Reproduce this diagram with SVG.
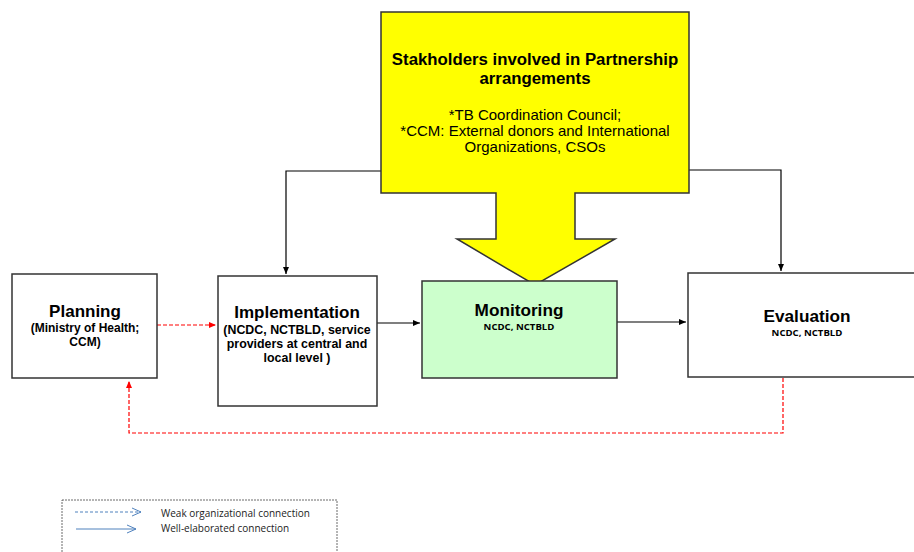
<svg xmlns="http://www.w3.org/2000/svg" width="914" height="552" viewBox="0 0 914 552">
<defs>
<style>
.box{fill:#fff;stroke:#333;stroke-width:1.5}
.t{font-family:"Liberation Sans",Arial,sans-serif;fill:#000;text-anchor:middle}
.b{font-weight:bold}
.s{font-family:"Open Sans","Noto Sans",sans-serif;font-weight:bold;font-size:9.6px;text-anchor:middle}
.c{fill:none;stroke:#000;stroke-width:1.2}
.r{fill:none;stroke:#ff0000;stroke-width:1.2;stroke-dasharray:4,2}
.leg{font-family:"Open Sans","Noto Sans",sans-serif;font-size:10px;fill:#222}
</style>
<marker id="ak" markerWidth="8" markerHeight="8" refX="7" refY="4" orient="auto" markerUnits="userSpaceOnUse"><path d="M0,1 L7,4 L0,7 z" fill="#000"/></marker>
<marker id="ar" markerWidth="8" markerHeight="8" refX="7" refY="4" orient="auto" markerUnits="userSpaceOnUse"><path d="M0,1 L7,4 L0,7 z" fill="#ff0000"/></marker>
<marker id="ab" markerWidth="10" markerHeight="10" refX="9" refY="5" orient="auto" markerUnits="userSpaceOnUse"><path d="M0,1 L9,5 L0,9" fill="none" stroke="#4f81bd" stroke-width="1"/></marker>
</defs>
<rect width="914" height="552" fill="#fff"/>

<g id="connectors">
<path class="c" d="M381,171 H286 V274" marker-end="url(#ak)"/>
<path class="c" d="M689,170 H781 V271" marker-end="url(#ak)"/>
<path class="c" d="M377,323 H420" marker-end="url(#ak)"/>
<path class="c" d="M617,322 H686" marker-end="url(#ak)"/>
<path class="r" d="M157,325 H216" marker-end="url(#ar)"/>
<path class="r" d="M783,378 V433 H129 V381" marker-end="url(#ar)"/>
</g>

<g id="stakeholders">
<polygon points="381,12 689,12 689,193 575,193 575,239 615,239 535,285 457,239 496,239 496,193 381,193" fill="#ffff00" stroke="#333" stroke-width="1.5"/>
<text class="t b" x="535" y="65" font-size="16.8">Stakholders involved in Partnership</text>
<text class="t b" x="535" y="84" font-size="16.8">arrangements</text>
<text class="t" x="535" y="120" font-size="15">*TB Coordination Council;</text>
<text class="t" x="535" y="136" font-size="15">*CCM: External donors and International</text>
<text class="t" x="535" y="152" font-size="15">Organizations, CSOs</text>
</g>

<g id="planning">
<rect class="box" x="12" y="274" width="145" height="104"/>
<text class="t b" x="85" y="317" font-size="17">Planning</text>
<text class="t b" x="85" y="332" font-size="12">(Ministry of Health;</text>
<text class="t b" x="85" y="346" font-size="12">CCM)</text>
</g>

<g id="implementation">
<rect class="box" x="218" y="276" width="159" height="130"/>
<text class="t b" x="297" y="318" font-size="17">Implementation</text>
<text class="t b" x="297" y="334" font-size="12.4">(NCDC, NCTBLD, service</text>
<text class="t b" x="297" y="348" font-size="12.4">providers at central and</text>
<text class="t b" x="297" y="362" font-size="12.4">local level )</text>
</g>

<g id="monitoring">
<rect class="box" x="422" y="281" width="195" height="97" style="fill:#ccffcc"/>
<text class="t b" x="519" y="316" font-size="17.2">Monitoring</text>
<text class="s" x="519" y="330">NCDC, NCTBLD</text>
</g>

<g id="evaluation">
<rect class="box" x="688" y="273" width="240" height="104"/>
<text class="t b" x="807" y="322" font-size="17.2">Evaluation</text>
<text class="s" x="807" y="336">NCDC, NCTBLD</text>
</g>

<g id="legend">
<rect x="62" y="500" width="275" height="60" fill="none" stroke="#444" stroke-width="0.8" stroke-dasharray="2,1"/>
<path d="M75,512 H141" fill="none" stroke="#4f81bd" stroke-width="1" stroke-dasharray="3,2" marker-end="url(#ab)"/>
<path d="M76,529 H136" fill="none" stroke="#4f81bd" stroke-width="1" marker-end="url(#ab)"/>
<text class="leg" x="161" y="517">Weak organizational connection</text>
<text class="leg" x="161" y="532">Well-elaborated connection</text>
</g>
</svg>
